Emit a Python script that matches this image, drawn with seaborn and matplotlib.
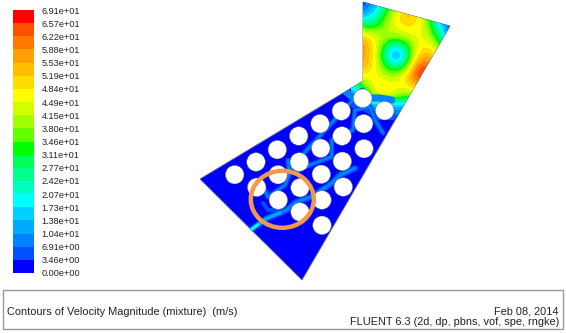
import numpy as np
import matplotlib
matplotlib.use('Agg')
import matplotlib.pyplot as plt
from matplotlib.colors import ListedColormap, BoundaryNorm
from matplotlib.patches import Polygon, Circle, Ellipse, Rectangle
import seaborn as sns

# Colour scale
level_values = [0.0, 3.46, 6.91, 10.4, 13.8, 17.3, 20.7, 24.2, 27.7, 31.1, 34.6,
                38.0, 41.5, 44.9, 48.4, 51.9, 55.3, 58.8, 62.2, 65.7, 69.1]
tick_labels = ['0.00e+00', '3.46e+00', '6.91e+00', '1.04e+01', '1.38e+01', '1.73e+01', '2.07e+01',
               '2.42e+01', '2.77e+01', '3.11e+01', '3.46e+01', '3.80e+01', '4.15e+01', '4.49e+01',
               '4.84e+01', '5.19e+01', '5.53e+01', '5.88e+01', '6.22e+01', '6.57e+01', '6.91e+01']
band_colors = ['#0000ff', '#0050ff', '#0082ff', '#00aaff', '#00d2ff', '#00ffff', '#00ffbe',
               '#00ff8c', '#00ff5a', '#00ff00', '#64ff00', '#a0ff00', '#d2ff00', '#ffff00',
               '#ffdc00', '#ffbe00', '#ffa000', '#ff7800', '#ff5000', '#ff0000']

# Geometry, in image pixels
domain_x = [363, 450, 302, 200, 363]
domain_y = [2, 26, 280, 179, 81]
hole_x = [234.7, 256, 277.3, 298.7, 320, 341.3, 362.7, 384.7, 363.7, 342, 320.7, 299.3,
          278, 256.7, 364, 342.3, 321.3, 300, 278.3, 343.3, 322, 300, 322]
hole_y = [174.7, 162, 149.7, 136, 123.7, 111, 98.3, 110.7, 123.7, 136, 148.3, 162,
          174.7, 187.3, 148.7, 161.3, 174.3, 187.7, 200, 187, 200, 212, 225.3]

# Velocity in the open upper chamber (m/s)
field_v = [[2, 3, 6, 14, 22, 28, 30, 22, 12, 4, 2],
           [2, 6, 14, 28, 38, 48, 46, 30, 14, 4, 2],
           [10, 14, 20, 36, 46, 56, 52, 38, 20, 6, 2],
           [34, 28, 30, 40, 46, 50, 48, 42, 24, 8, 3],
           [54, 48, 44, 42, 42, 44, 46, 44, 32, 14, 5],
           [62, 56, 46, 30, 22, 30, 44, 48, 42, 24, 10],
           [60, 56, 46, 22, 5, 22, 46, 56, 50, 35, 15],
           [56, 54, 46, 30, 22, 30, 60, 64, 56, 40, 20],
           [48, 48, 46, 42, 40, 50, 66, 68, 60, 40, 20],
           [24, 40, 48, 48, 46, 48, 56, 58, 46, 30, 15],
           [8, 26, 46, 50, 44, 38, 40, 34, 24, 15, 10],
           [4, 6, 12, 16, 14, 14, 12, 10, 8, 6, 3],
           [1, 2, 3, 4, 5, 8, 8, 4, 2, 1, 1]]

# Jets between the holes: x, y
jet_main_x = [251.7, 266.7, 286.7, 296.7, 311.7, 331.7, 340, 355]
jet_main_y = [229.3, 218.3, 210, 201.7, 196.7, 183.3, 175, 168.3]
jet_mid_x = [261.7, 268, 285, 290, 310, 331.7, 331.7, 353, 355, 370, 375, 383]
jet_mid_y = [183, 197, 185, 173, 165, 156.7, 140, 130, 110, 106.7, 120, 133]
jet_top_x = [288, 289, 310, 331.7, 353, 362]
jet_top_y = [160, 170, 146.7, 123, 100, 90]
jet_side_x = [263, 268, 286.7]
jet_side_y = [203, 210, 210]
jet_core_x = [251.7, 266.7, 280]
jet_core_y = [229.3, 218.3, 213]
jet_tip_x = [251.7, 258]
jet_tip_y = [229.3, 224.5]
jet_neck_x = [346, 356, 368, 380, 392]
jet_neck_y = [92, 100, 98, 98, 100]

sns.set_theme(style='white')
plt.rcParams['font.family'] = ['Liberation Sans', 'DejaVu Sans']

fig = plt.figure(figsize=(5.66, 3.33), dpi=100, facecolor='white')
ax = fig.add_axes([0, 0, 1, 1])
ax.axis('off')

band_cmap = ListedColormap(band_colors)
band_norm = BoundaryNorm(level_values, len(band_colors))


def speed_color(v):
    return band_colors[np.searchsorted(level_values, v, side='right') - 1]


# Domain
domain = Polygon(list(zip(domain_x, domain_y)), closed=True, facecolor='#0000ff',
                 edgecolor='#607080', linewidth=0.6, zorder=1)
ax.add_patch(domain)

img = ax.imshow(field_v, extent=(351, 461, 120, -10), aspect='auto', cmap=band_cmap, norm=band_norm,
                interpolation='bicubic', interpolation_stage='data', zorder=2)
img.set_clip_path(domain)
ax.set_xlim(0, 566)
ax.set_ylim(333, 0)

jets = [(jet_main_x, jet_main_y, 5, 6), (jet_mid_x, jet_mid_y, 5, 5),
        (jet_top_x, jet_top_y, 5, 5), (jet_side_x, jet_side_y, 5, 4),
        (jet_neck_x, jet_neck_y, 8, 7), (jet_mid_x, jet_mid_y, 8, 2),
        (jet_top_x, jet_top_y, 8, 2), (jet_main_x, jet_main_y, 8, 3),
        (jet_core_x, jet_core_y, 12, 3), (jet_tip_x, jet_tip_y, 18, 3)]
for jx, jy, speed, width in jets:
    line, = ax.plot(jx, jy, color=speed_color(speed), linewidth=width * 0.72,
                    solid_capstyle='round', solid_joinstyle='round', zorder=3)
    line.set_clip_path(domain)

for hx, hy in zip(hole_x, hole_y):
    ax.add_patch(Circle((hx, hy), 9.3, facecolor='white', edgecolor='#606060', linewidth=0.3, zorder=4))

# Orange ring
ax.add_patch(Ellipse((282.3, 199.3), 63, 57, facecolor='none', edgecolor='#f2994a', linewidth=3.2, zorder=5))

# Footer box
ax.add_patch(Rectangle((3, 290), 560, 39, facecolor='white', edgecolor='#999999', linewidth=1, zorder=1))
ax.text(7, 312, 'Contours of Velocity Magnitude (mixture)  (m/s)', fontsize=7.9,
        color='#222222', va='center', ha='left')
ax.text(559, 311, 'Feb 08, 2014', fontsize=7.9, color='#222222', va='center', ha='right')
ax.text(559, 322, 'FLUENT 6.3 (2d, dp, pbns, vof, spe, rngke)', fontsize=7.9,
        color='#222222', va='center', ha='right')

# Colour bar
cax = fig.add_axes([13 / 566, 1 - 273 / 333, 21 / 566, 263 / 333])
band_mids = [(a + b) / 2 for a, b in zip(level_values[:-1], level_values[1:])]
bar_table = np.array(band_mids[::-1]).reshape(-1, 1)
sns.heatmap(bar_table, ax=cax, cbar=False, cmap=band_cmap, norm=band_norm, xticklabels=False)
cax.yaxis.tick_right()
cax.set_yticks(np.arange(len(tick_labels)))
cax.set_yticklabels(tick_labels[::-1], rotation=0, fontsize=6.6, color='#222222')
cax.tick_params(axis='y', length=0, pad=5.5)

fig.savefig('out.png', dpi=100, facecolor='white')
